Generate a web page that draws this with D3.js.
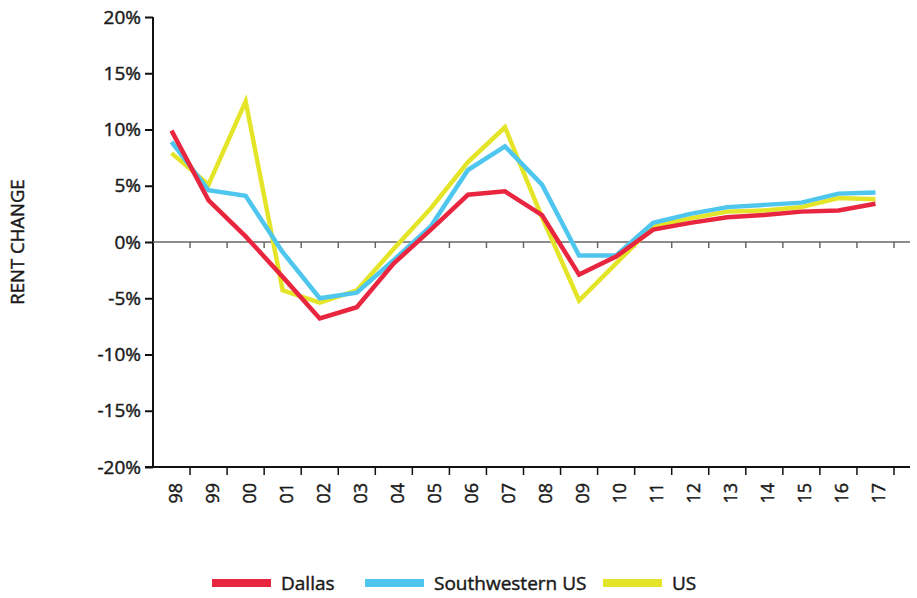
<!DOCTYPE html>
<html><head><meta charset="utf-8">
<script src="https://cdn.jsdelivr.net/npm/d3@7"></script>
<style>body{margin:0;background:#fff;} text{font-family:"Open Sans",sans-serif;fill:#1a1a1a;stroke:#1a1a1a;stroke-width:0.45px;}</style>
</head><body>
<svg id="c" width="917" height="598"></svg>
<script>
const years = ["98","99","00","01","02","03","04","05","06","07","08","09","10","11","12","13","14","15","16","17"];
const dallas = [9.9,3.7,0.5,-3.1,-6.8,-5.8,-1.9,1.1,4.2,4.5,2.4,-2.9,-1.3,1.1,1.7,2.2,2.4,2.7,2.8,3.4];
const southwest = [8.9,4.6,4.1,-0.9,-5.0,-4.5,-1.6,1.4,6.4,8.5,5.1,-1.2,-1.2,1.7,2.5,3.1,3.3,3.5,4.3,4.4];
const us = [7.9,5.1,12.5,-4.3,-5.4,-4.3,-0.6,3.0,7.1,10.2,2.2,-5.2,-1.9,1.4,2.1,2.7,2.8,3.1,3.9,3.8];
const yTicks = [20,15,10,5,0,-5,-10,-15,-20];
const seriesNames = ["Dallas","Southwestern US","US"];
const colors = ["#e8263f","#4fc6ee","#e4e528"];

const svg = d3.select("#c");
const x = d3.scaleBand().domain(years).range([153,894]);
const y = d3.scaleLinear().domain([-20,20]).range([467,17]);

// y axis
const ya = svg.append("g").attr("transform","translate(153,0)")
  .call(d3.axisLeft(y).tickValues(yTicks).tickFormat(d=>d+"%").tickSize(8).tickPadding(4));
ya.select(".domain").attr("stroke","#111").attr("stroke-width",2).attr("d","M0,"+y(20)+"V"+y(-20));
ya.selectAll(".tick line").attr("stroke","#111").attr("stroke-width",2);
ya.selectAll(".tick text").style("font-size","19px").style("font-weight","400").attr("fill","#1a1a1a");

// zero line
const zg = svg.append("g").attr("transform","translate(0,"+y(0)+")");
zg.append("line").attr("x1",153).attr("x2",910).attr("stroke","#666").attr("stroke-width",1.5);
zg.selectAll("line.t").data(years).enter().append("line")
  .attr("x1",(d,i)=>x.range()[0]+x.step()*(i+1)).attr("x2",(d,i)=>x.range()[0]+x.step()*(i+1))
  .attr("y1",0).attr("y2",6).attr("stroke","#666").attr("stroke-width",1.5);

// bottom axis
const xa = svg.append("g").attr("transform","translate(0,"+y(-20)+")");
xa.append("line").attr("x1",145).attr("x2",910).attr("stroke","#111").attr("stroke-width",2);
xa.selectAll("line.t").data(years).enter().append("line")
  .attr("x1",(d,i)=>x.range()[0]+x.step()*(i+1)).attr("x2",(d,i)=>x.range()[0]+x.step()*(i+1))
  .attr("y1",0).attr("y2",8).attr("stroke","#111").attr("stroke-width",1.5);
xa.selectAll("text").data(years).enter().append("text")
  .attr("transform",d=>"translate("+(x(d)+x.bandwidth()/2+10)+",16) rotate(-90)")
  .attr("text-anchor","end").style("font-size","18px").style("font-weight","400").text(d=>d);

// y label
svg.append("text").attr("transform","translate(24,"+y(0)+") rotate(-90)")
  .attr("text-anchor","middle").style("font-size","18.5px").style("font-weight","400").text("RENT CHANGE");

// lines
const line = d3.line().x((d,i)=>x(years[i])+x.bandwidth()/2).y(d=>y(d));
[us,southwest,dallas].forEach((s,k)=>{
  const idx = 2-k;
  svg.append("path").datum(s).attr("d",line).attr("fill","none")
    .attr("stroke",colors[idx]).attr("stroke-width",4.5).attr("stroke-linejoin","miter");
});

// legend
const legX = [212,365,603];
const lg = svg.append("g");
seriesNames.forEach((n,i)=>{
  lg.append("line").attr("x1",legX[i]).attr("x2",legX[i]+59).attr("y1",583).attr("y2",583)
    .attr("stroke",colors[i]).attr("stroke-width",8);
  lg.append("text").attr("x",legX[i]+69).attr("y",590).style("font-size","19px").style("font-weight","400").text(n);
});
</script>
</body></html>
